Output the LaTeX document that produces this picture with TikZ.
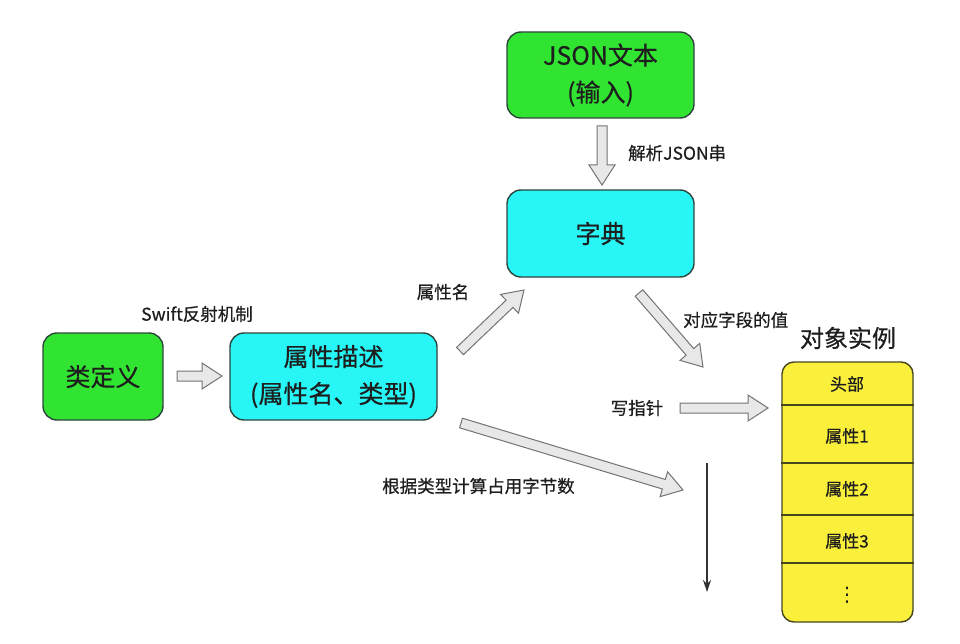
\documentclass[tikz,border=0pt]{standalone}
\usepackage{fontspec}
\setmainfont{Noto Sans CJK SC}[FakeBold=0.6]
\newfontfamily\dejavu{DejaVu Sans}
\usetikzlibrary{calc,arrows.meta}
\definecolor{gfill}{RGB}{50,228,50}
\definecolor{cfill}{RGB}{40,245,245}
\definecolor{yfill}{RGB}{250,240,60}
\definecolor{bline}{RGB}{45,70,60}
\definecolor{yline}{RGB}{70,70,30}
\definecolor{txt}{RGB}{30,30,30}
\newcommand\hollowarr[2]{%
  \coordinate (hb) at ($(#2)!20pt!(#1)$);
  \draw[harrow] ($(#1)!5pt!90:(#2)$) -- ($(hb)!5pt!-90:(#1)$) -- ($(hb)!13pt!-90:(#1)$) -- (#2)
     -- ($(hb)!13pt!90:(#1)$) -- ($(hb)!5pt!90:(#1)$) -- ($(#1)!5pt!-90:(#2)$) -- cycle;}
\begin{document}
\begin{tikzpicture}[x=1pt,y=-1pt,
  box/.style={draw=bline,line width=1.4pt,rounded corners=14pt,align=center,inner sep=0pt,
    text=txt,font=\fontsize{25}{37}\selectfont},
  gbox/.style={box,fill=gfill},
  cbox/.style={box,fill=cfill},
  harrow/.style={draw=black!55,fill=black!9,line width=1pt,line join=miter},
  lbl/.style={text=txt,font=\fontsize{17.5}{20}\selectfont,inner sep=0pt},
  cell/.style={text=txt,font=\fontsize{17}{20}\selectfont,inner sep=0pt}]
\useasboundingbox (0,0) rectangle (960,644);
% boxes
\node[gbox,minimum width=187pt,minimum height=86pt] (json) at (600.5,75) {JSON文本\\(输入)};
\node[cbox,minimum width=187pt,minimum height=87pt] (dict) at (600.5,233.5) {字典};
\node[gbox,minimum width=120pt,minimum height=87pt] (cls) at (103,376.5) {类定义};
\node[cbox,minimum width=207pt,minimum height=87pt] (attr) at (333.5,376.5) {属性描述\\(属性名、类型)};
% object stack
\node[draw=yline,fill=yfill,line width=1.4pt,rounded corners=12pt,minimum width=131pt,minimum height=260pt,inner sep=0pt] (stack) at (847.5,492) {};
\node[text=txt,font=\fontsize{24}{28}\selectfont,inner sep=0pt] (objtitle) at (848,338) {对象实例};
\foreach \yy in {405,463,515,563}
  \draw[yline,line width=1.4pt] (stack.west |- 0,\yy) -- (stack.east |- 0,\yy);
\node[cell] (c0) at (847,384) {头部};
\node[cell] (c1) at (847,436) {属性1};
\node[cell] (c2) at (847,489) {属性2};
\node[cell] (c3) at (847,541) {属性3};
\node[text=txt,font=\dejavu\fontsize{20}{22}\selectfont,inner sep=0pt] (c4) at (847,595) {⋮};
% arrow end points
\coordinate (j1) at (602,126); \coordinate (j2) at (602,185);
\coordinate (k1) at (177,376); \coordinate (k2) at (222,376);
\coordinate (a1) at (460,351); \coordinate (a2) at (524,290);
\coordinate (d1) at (639,293); \coordinate (d2) at (703,367);
\coordinate (w1) at (680,408); \coordinate (w2) at (768,408);
\coordinate (b1) at (461,423); \coordinate (b2) at (683,490);
\coordinate (t1) at (707,463); \coordinate (t2) at (707,592);
\hollowarr{j1}{j2}
\hollowarr{k1}{k2}
\hollowarr{a1}{a2}
\hollowarr{d1}{d2}
\hollowarr{w1}{w2}
\hollowarr{b1}{b2}
\draw[black!80,line width=1.2pt,-{Stealth[length=12pt,width=8pt]}] (t1) -- (t2);
% labels
\node[lbl,anchor=west] (l1) at (628,153) {解析JSON串};
\node[lbl] (l2) at (197,314) {Swift反射机制};
\node[lbl] (l3) at (443,292) {属性名};
\node[lbl,anchor=west] (l4) at (683,320) {对应字段的值};
\node[lbl] (l5) at (637,408) {写指针};
\node[lbl,anchor=west] (l6) at (382,486) {根据类型计算占用字节数};
\end{tikzpicture}
\end{document}
